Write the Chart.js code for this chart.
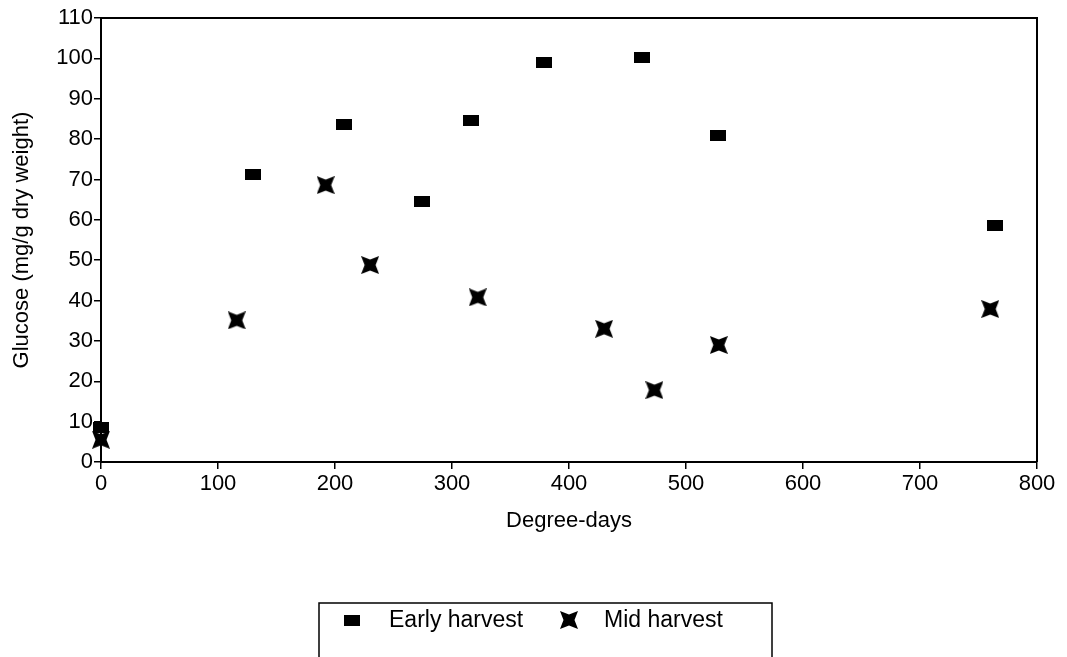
<html>
<head>
    <title>Glucose vs degree-days</title>
    <style>
        body { margin: 0; background: #fff; }
        #wrap { width: 1067px; height: 657px; }
    </style>
</head>
<body>
    <div id="wrap">
        <canvas id="myChart" width="1067" height="657"></canvas>
    </div>

    <script src="https://cdn.jsdelivr.net/npm/chart.js"></script>

<script>
    // values
    const earlyX = [0, 130, 208, 274, 316, 379, 462, 527, 764];
    const earlyY = [8.5, 71.2, 83.7, 64.6, 84.5, 98.9, 100.1, 81, 58.5];
    const midX = [0, 116, 192, 230, 322, 430, 473, 528, 760];
    const midY = [5.5, 35.1, 68.6, 48.8, 40.8, 33, 17.8, 29, 37.9];
    const seriesNames = ['Early harvest', 'Mid harvest'];
    const xTicks = [0, 100, 200, 300, 400, 500, 600, 700, 800];
    const yTicks = [0, 10, 20, 30, 40, 50, 60, 70, 80, 90, 100, 110];

    const FONT = '"Liberation Sans", Arial, Helvetica, sans-serif';

    // little filled rectangle
    function squareMarker() {
        let c = document.createElement('canvas');
        c.width = 16; c.height = 11;
        let g = c.getContext('2d');
        g.fillStyle = '#000';
        g.fillRect(0, 0, 16, 11);
        return c;
    }

    // fat four-pointed x (square with notched sides)
    function starMarker() {
        let c = document.createElement('canvas');
        c.width = 18; c.height = 18;
        let g = c.getContext('2d');
        g.fillStyle = '#000';
        g.beginPath();
        g.moveTo(0, 0); g.lineTo(9, 3.5); g.lineTo(18, 0); g.lineTo(14.5, 9);
        g.lineTo(18, 18); g.lineTo(9, 14.5); g.lineTo(0, 18); g.lineTo(3.5, 9);
        g.closePath();
        g.fill();
        return c;
    }

    const sq = squareMarker();
    const st = starMarker();

    // box round the plot + legend at the bottom
    const framePlugin = {
        id: 'frame',
        afterDraw(chart) {
            const ctx = chart.ctx;
            const a = chart.chartArea;
            ctx.save();
            ctx.strokeStyle = '#000';
            ctx.lineWidth = 2;
            ctx.beginPath();
            ctx.moveTo(a.left, a.top);
            ctx.lineTo(a.right, a.top);
            ctx.lineTo(a.right, a.bottom);
            ctx.stroke();

            // legend
            ctx.lineWidth = 1.5;
            ctx.strokeRect(319, 603, 453, 80);
            ctx.drawImage(sq, 352 - 8, 620 - 5.5);
            ctx.drawImage(st, 569 - 9, 620 - 9);
            ctx.fillStyle = '#000';
            ctx.font = '23px ' + FONT;
            ctx.textBaseline = 'middle';
            ctx.fillText(seriesNames[0], 389, 621);
            ctx.fillText(seriesNames[1], 604, 621);
            ctx.restore();
        }
    };

    const ctx = document.getElementById('myChart').getContext('2d');
    const myChart = new Chart(ctx, {
        type: 'scatter',
        data: {
            datasets: [{
                label: seriesNames[0],
                data: earlyX.map((x, i) => ({x: x, y: earlyY[i]})),
                pointStyle: sq,
                pointRadius: 8,
                pointHoverRadius: 8,
                clip: false
            }, {
                label: seriesNames[1],
                data: midX.map((x, i) => ({x: x, y: midY[i]})),
                pointStyle: st,
                pointRadius: 9,
                pointHoverRadius: 9,
                clip: false
            }]
        },
        options: {
            responsive: false,
            animation: false,
            layout: {
                padding: {left: 0, right: 30, top: 18, bottom: 115}
            },
            plugins: {
                legend: {display: false},
                tooltip: {enabled: false}
            },
            scales: {
                x: {
                    type: 'linear',
                    min: 0,
                    max: 800,
                    afterBuildTicks: s => { s.ticks = xTicks.map(v => ({value: v})); },
                    afterFit: s => { s.height = 80; },
                    grid: {drawOnChartArea: false, drawTicks: true, tickLength: 7, color: '#000', lineWidth: 1.5},
                    border: {color: '#000', width: 2},
                    ticks: {color: '#000', padding: 2, maxRotation: 0, font: {family: FONT, size: 22}},
                    title: {
                        display: true,
                        text: 'Degree-days',
                        color: '#000',
                        font: {family: FONT, size: 22},
                        padding: {top: 0, bottom: 8}
                    }
                },
                y: {
                    type: 'linear',
                    min: 0,
                    max: 110,
                    afterBuildTicks: s => { s.ticks = yTicks.map(v => ({value: v})); },
                    afterFit: s => { s.width = 101; },
                    grid: {drawOnChartArea: false, drawTicks: true, tickLength: 7, color: '#000', lineWidth: 1.5},
                    border: {color: '#000', width: 2},
                    ticks: {color: '#000', padding: 1, font: {family: FONT, size: 22}},
                    title: {
                        display: true,
                        text: 'Glucose (mg/g dry weight)',
                        color: '#000',
                        font: {family: FONT, size: 22},
                        padding: {top: 9, bottom: 0}
                    }
                }
            }
        },
        plugins: [framePlugin]
    });
</script>
</body>
</html>
